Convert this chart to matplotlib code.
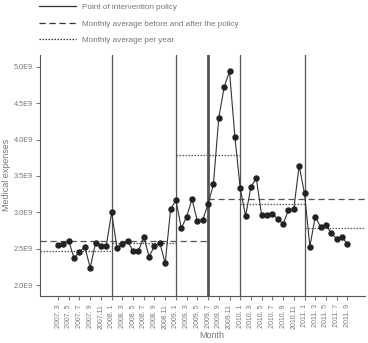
import matplotlib
matplotlib.use("Agg")
import matplotlib.pyplot as plt
from matplotlib.lines import Line2D

plt.rcParams['font.family'] = ['Liberation Sans', 'DejaVu Sans']

# monthly data 2007.3 - 2011.9
months = []
for y in range(2007, 2012):
    for m in range(1, 13):
        if (y == 2007 and m < 3) or (y == 2011 and m > 9):
            continue
        months.append((y, m))

expenses = [2.55, 2.57, 2.60, 2.37, 2.46, 2.52, 2.24, 2.58, 2.54, 2.54,
            3.00, 2.51, 2.57, 2.60, 2.47, 2.47, 2.66, 2.39, 2.54, 2.58, 2.30, 3.04,
            3.17, 2.78, 2.94, 3.18, 2.88, 2.90, 3.11, 3.39, 4.30, 4.72, 4.94, 4.04,
            3.33, 2.95, 3.35, 3.47, 2.96, 2.96, 2.98, 2.91, 2.84, 3.03, 3.05, 3.64,
            3.26, 2.53, 2.94, 2.80, 2.83, 2.71, 2.64, 2.66, 2.56]
expenses = [v * 1e9 for v in expenses]

interventions = [(2008, 1), (2009, 1), (2009, 7), (2010, 1), (2011, 1)]
# before / after policy (2009.7)
policy_avg = [2.61e9, 3.19e9]
# yearly averages
year_avg = {2007: 2.47e9, 2008: 2.58e9, 2009: 3.79e9, 2010: 3.11e9, 2011: 2.78e9}

idx = {ym: i for i, ym in enumerate(months)}
x = list(range(len(months)))
xl, xr = -3.35, 57.3

fig = plt.figure(figsize=(3.68, 3.43), dpi=100)
ax = fig.add_axes([0.109, 0.137, 0.883, 0.703])

gray = '#777777'
for ym in interventions:
    lw = 2.0 if ym == (2009, 7) else 0.9
    ax.axvline(idx[ym], color='#555555', lw=lw, zorder=1)

# before/after policy averages
p = idx[(2009, 7)]
ax.plot([xl, p], [policy_avg[0]] * 2, color='#555555', lw=0.9, ls=(0, (5, 3)))
ax.plot([p, xr], [policy_avg[1]] * 2, color='#555555', lw=0.9, ls=(0, (5, 3)))

# yearly averages
for y, v in year_avg.items():
    a = xl if y == 2007 else idx[(y, 1)]
    b = xr if y == 2011 else idx[(y + 1, 1)]
    ax.plot([a, b], [v, v], color='#555555', lw=0.9, ls=(0, (1.2, 1.2)))

ax.plot(x, expenses, color='#333333', lw=0.8, marker='o', ms=3.6,
        markerfacecolor='#222222', markeredgecolor='#222222', zorder=3)

ax.set_xlim(xl, xr)
ax.set_ylim(1.85e9, 5.165e9)
yt = [2.0e9, 2.5e9, 3.0e9, 3.5e9, 4.0e9, 4.5e9, 5.0e9]
ax.set_yticks(yt)
ax.set_yticklabels(['%.1fE9' % (v / 1e9) for v in yt])
lab_idx = [i for i, (yy, m) in enumerate(months) if m % 2 == 1]
ax.set_xticks(lab_idx)
ax.set_xticklabels(['%d.%2d' % months[i] for i in lab_idx], rotation=90)
ax.tick_params(axis='both', colors=gray, labelsize=5.3, length=3, width=0.8)
ax.tick_params(axis='y', pad=2)
ax.tick_params(axis='x', labelsize=5, pad=3)
for s in ['top', 'right']:
    ax.spines[s].set_visible(False)
for s in ['left', 'bottom']:
    ax.spines[s].set_color('#555555')
    ax.spines[s].set_linewidth(0.8)

fig.text(0.018, 0.49, 'Medical expenses', color=gray, fontsize=6.5,
         rotation=90, ha='center', va='center')
fig.text(0.575, 0.023, 'Month', color=gray, fontsize=6.5,
         ha='center', va='center')

handles = [Line2D([], [], color='#333333', lw=0.9),
           Line2D([], [], color='#333333', lw=0.9, ls=(0, (5, 3))),
           Line2D([], [], color='#333333', lw=0.9, ls=(0, (1.2, 1.2)))]
labels = ['Point of intervention policy',
          'Monthly average before and after the policy',
          'Monthly average per year']
fig.legend(handles, labels, loc='upper left', bbox_to_anchor=(0.085, 1.011),
           frameon=False, fontsize=5.9, handlelength=4.6, handletextpad=0.75,
           labelspacing=1.05, labelcolor=gray)

fig.savefig('out.png', dpi=100)
